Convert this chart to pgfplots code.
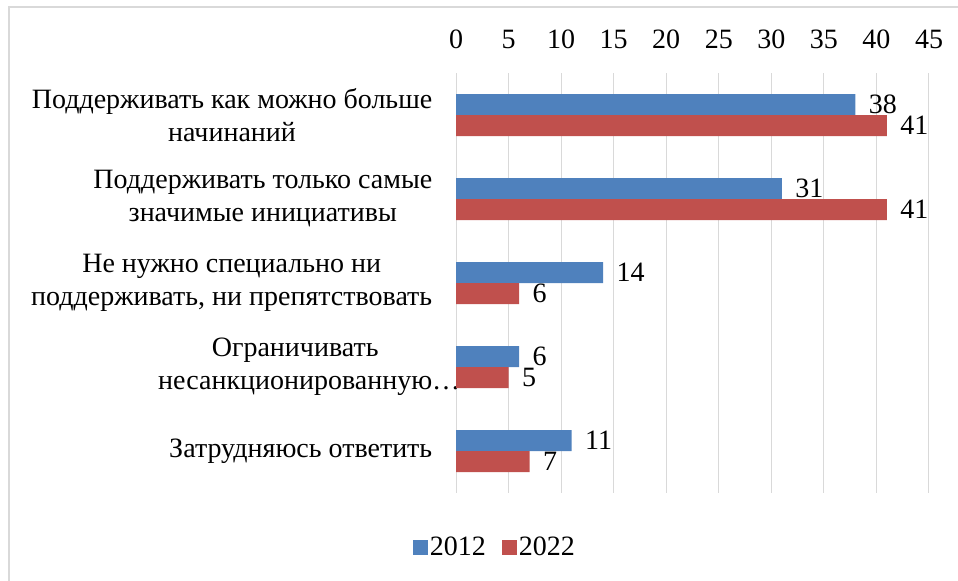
\documentclass[border=0pt]{standalone}
\usepackage{pgfplots}
\pgfplotsset{compat=1.18}
\usepackage{fontspec}
\setmainfont{Liberation Serif}
\definecolor{blue12}{HTML}{4F81BD}
\definecolor{red22}{HTML}{C0504D}
\definecolor{gridc}{HTML}{D9D9D9}
\newcommand{\chf}{\fontsize{28bp}{33bp}\selectfont}
\begin{document}
\begin{tikzpicture}
\useasboundingbox (0,0) rectangle (958bp,581bp);
\draw[gridc, line width=1.5bp] (9bp,0bp) -- (9bp,574bp) -- (958bp,574bp);
\begin{axis}[
 at={(456bp,88bp)}, anchor=south west,
 scale only axis, width=473bp, height=420bp,
 xbar, bar width=21bp,
 xmin=0, xmax=45, xtick={0,5,...,45},
 ymin=-0.5, ymax=4.5, y dir=reverse,
 ytick={0,1,2,3,4},
 yticklabels={{Поддерживать как можно больше\\начинаний},{Поддерживать только самые\\значимые инициативы},{Не нужно специально ни\\поддерживать, ни препятствовать},{Ограничивать\\несанкционированную\rlap{…}},{Затрудняюсь ответить}},
 axis line style={draw=none}, tick style={draw=none},
 xticklabel pos=upper,
 xmajorgrids, grid style={gridc, line width=1bp},
 xticklabel style={font=\chf, yshift=21bp},
 yticklabel style={font=\chf, align=center, xshift=-16bp},
 /pgf/number format/assume math mode=true,
 nodes near coords,
 every node near coord/.append style={font=\chf, anchor=west, xshift=10bp},
 legend columns=2,
 legend style={draw=none, at={(0.082,-0.129)}, anchor=center, font=\chf, /tikz/every even column/.append style={column sep=14bp}},
 legend image code/.code={\fill[#1] (0bp,-7.5bp) rectangle (15bp,7.5bp);},
]
\addplot[fill=blue12, draw=none, bar shift=10.5bp] coordinates {(38,0) (31,1) (14,2) (6,3) (11,4)};
\addplot[fill=red22, draw=none, bar shift=-10.5bp] coordinates {(41,0) (41,1) (6,2) (5,3) (7,4)};
\legend{2012,2022}
\end{axis}
\end{tikzpicture}
\end{document}
